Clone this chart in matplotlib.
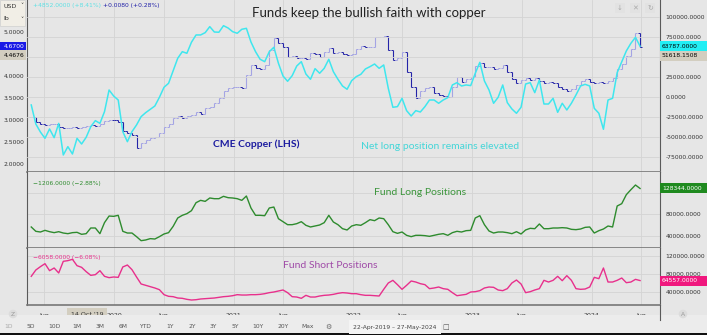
import matplotlib
matplotlib.use('Agg')
import matplotlib.pyplot as plt
import matplotlib.transforms as mtransforms
from matplotlib.patches import Rectangle
import numpy as np
import pandas as pd

W, H = 707, 335

# weekly COT data sampled every 2 weeks, 22-Apr-2019 .. 27-May-2024
dates = pd.date_range('2019-04-23', periods=134, freq='14D')

# net long position (thousand contracts), right scale of top panel
net_long = [-9.6, -33.4, -43.4, -51.3, -39.6, -50.5, -32.6, -72.1, -61.7, -70.9,
            -51.3, -58.4, -50.0, -36.7, -29.2, -32.6, -18.0, 9.1, 1.6, -3.4,
            -43.0, -55.5, -43.0, -34.6, -24.2, -19.2, -15.0, -10.9, 0.0, 12.5,
            17.5, 33.3, 48.8, 57.0, 55.0, 68.8, 77.9, 77.9, 80.8, 88.3,
            81.6, 81.3, 89.5, 86.6, 82.0, 80.0,
            85.0, 86.2, 69.1, 57.0, 47.5, 44.5, 57.0, 62.5, 42.5, 26.6,
            20.0, 27.0, 39.1, 44.5, 29.1, 22.5, 35.8, 30.0, 36.2, 47.5,
            32.0, 22.5, 14.1, 10.0, 20.8, 25.8, 28.7, 35.4, 38.3, 41.6,
            36.2, 40.4, 11.2, -12.5, -11.7, -1.3, -16.7, -23.4, -16.7, -18.4,
            -11.7, -3.4, -3.4, -7.5, -3.4, -0.4,
            15.4, 18.3, 14.1, 15.4, 14.6, 30.0, 43.7, 20.4, 9.1, -7.5,
            0.0, 15.4, -6.7, -14.6, -20.0, -12.5, 16.6, 18.3, 5.8, 21.6,
            -8.4, -8.4, -1.3, -18.8, -7.5, -15.9, -7.5, 2.9, 14.1, 16.2,
            14.1, -13.8, -20.0, -40.0, -3.4, -1.3, 30.8, 44.5, 57.9, 67.5,
            75.0, 63.8]

# CME copper close (USD/lb), left scale of top panel
price_close = [3.06, 2.95, 2.90, 2.89, 2.90, 2.91, 2.85, 2.81, 2.81, 2.83,
               2.81, 2.83, 2.86, 2.88, 2.86, 2.90, 2.97, 3.01, 3.00, 2.96,
               2.76, 2.70, 2.67, 2.36, 2.48, 2.55, 2.58, 2.62, 2.71, 2.83,
               2.91, 3.04, 3.08, 3.05, 3.08, 3.11, 3.19, 3.14, 3.27, 3.30,
               3.38, 3.49, 3.67, 3.73, 3.74, 3.74,
               3.72, 4.02, 4.24, 4.18, 4.17, 4.25, 4.59, 4.86, 4.74, 4.67,
               4.44, 4.45, 4.40, 4.42, 4.38, 4.52, 4.50, 4.44, 4.55, 4.63,
               4.52, 4.55, 4.49, 4.48, 4.50, 4.61, 4.69, 4.67, 4.67, 4.88,
               4.88, 4.91, 4.59, 4.36, 4.42, 4.55, 4.10, 3.74, 3.49, 3.67,
               3.72, 3.74, 3.62, 3.57, 3.55, 3.52,
               3.74, 3.97, 3.87, 3.93, 3.97, 4.23, 4.29, 4.20, 4.20, 4.17,
               4.19, 4.24, 4.10, 3.94, 3.85, 3.91, 3.96, 3.92, 3.96, 3.88,
               3.85, 3.87, 3.83, 3.76, 3.70, 3.67, 3.70, 3.79, 3.89, 3.93,
               3.87, 3.85, 3.87, 3.83, 3.89, 3.96, 4.15, 4.27, 4.46, 4.62,
               4.98, 4.67]

# fund long positions (thousand contracts)
long_pos = [56.3, 48.2, 46.9, 50.0, 47.5, 45.7, 47.5, 45.0, 43.8, 45.7,
            46.3, 42.6, 43.8, 54.4, 54.4, 43.8, 64.4, 76.8, 76.2, 78.1,
            48.2, 45.0, 45.0, 38.2, 30.7, 32.0, 34.5, 33.8, 38.2, 43.2,
            45.7, 57.5, 73.1, 78.1, 81.2, 86.8, 101.7, 106.1, 104.2, 110.5,
            109.2, 109.2, 113.6, 111.1, 110.5, 109.2,
            106.1, 114.2, 91.8, 78.1, 78.1, 77.4, 91.8, 93.6, 71.8, 66.2,
            60.6, 60.6, 62.5, 66.2, 59.4, 56.3, 58.1, 60.0, 64.4, 78.1,
            65.6, 60.6, 53.1, 50.7, 58.1, 60.6, 59.4, 64.4, 70.0, 68.1,
            73.1, 71.8, 60.6, 47.5, 44.4, 46.9, 40.7, 38.2, 40.7, 40.7,
            40.1, 38.8, 40.7, 42.6, 43.8, 40.7,
            45.7, 48.2, 46.9, 49.4, 50.0, 73.1, 77.4, 60.6, 48.8, 45.0,
            46.9, 46.9, 45.7, 43.8, 47.5, 43.2, 50.7, 53.8, 53.1, 61.9,
            53.1, 53.1, 54.4, 54.4, 55.0, 54.4, 51.9, 51.3, 52.5, 55.6,
            56.3, 45.0, 49.4, 52.5, 58.1, 56.3, 95.5, 99.9, 116.7, 126.0,
            134.8, 128.3]

# fund short positions (thousand contracts)
short_pos = [74.1, 88.3, 95.8, 102.5, 86.8, 92.8, 81.6, 107.8, 109.3, 112.3,
             98.0, 94.3, 84.6, 76.3, 77.8, 86.8, 74.1, 71.1, 72.6, 71.8,
             95.1, 99.5, 89.1, 72.6, 56.9, 53.9, 50.9, 47.9, 44.1, 32.9,
             29.2, 28.4, 25.4, 24.7, 22.4, 20.9, 21.6, 23.2, 23.9, 24.7,
             25.4, 26.9, 28.4, 29.2, 30.6, 32.9,
             32.1, 32.1, 32.9, 32.9, 33.6, 35.1, 37.4, 38.9, 41.1, 43.4,
             37.4, 28.4, 27.6, 24.7, 31.4, 27.6, 27.6, 29.9, 31.4, 32.1,
             33.6, 35.9, 37.4, 36.6, 35.1, 35.1, 32.9, 31.4, 31.4, 30.6,
             29.9, 44.9, 59.1, 65.1, 55.4, 44.9, 53.9, 63.6, 61.3, 57.6,
             55.4, 46.4, 47.9, 50.1, 46.4, 44.9,
             37.4, 30.6, 32.1, 33.6, 38.9, 39.6, 41.9, 47.9, 50.1, 49.4,
             43.4, 41.9, 46.4, 59.1, 65.8, 56.9, 37.4, 39.6, 43.4, 46.4,
             65.1, 61.3, 65.1, 74.1, 64.3, 75.6, 65.1, 46.4, 44.9, 45.6,
             50.1, 71.8, 68.8, 92.8, 61.3, 61.3, 65.1, 70.3, 59.8, 61.3,
             67.3, 64.6]

grid_dates = pd.to_datetime(['2019-06-01', '2020-01-01', '2020-06-01', '2021-01-01',
                             '2021-06-01', '2022-01-01', '2022-06-01', '2023-01-01',
                             '2023-06-01', '2024-01-01', '2024-06-01'])
grid_labels = ['Jun', '2020', 'Jun', '2021', 'Jun', '2022', 'Jun', '2023', 'Jun', '2024', 'Jun']

price_ticks = [2.0, 2.5, 3.0, 3.5, 4.0, 4.5, 5.0]
net_ticks = [-75000, -50000, -25000, 0, 25000, 50000, 75000, 100000]
pos_ticks = [40000, 80000, 120000]

BG = '#e6e6e6'
GRID = '#d4d4d4'
AXC = '#5a5a5a'
TXT = '#333333'
CYAN = '#3fe6ee'
DARK_BLUE = '#2424a8'
LIGHT_BLUE = '#a4a4e4'
GREEN = '#2e8b2e'
PINK = '#e8308c'

plt.rcParams['font.family'] = ['DejaVu Sans']

fig = plt.figure(figsize=(W / 100, H / 100), dpi=100, facecolor=BG)


def px_axes(x0, y0, x1, y1):
    return fig.add_axes([x0 / W, 1 - y1 / H, (x1 - x0) / W, (y1 - y0) / H])


def ftext(x, y, s, **kw):
    return fig.text(x / W, 1 - y / H, s, **kw)


def fmt_labels(ticks, hidden=()):
    return ['' if v in hidden else f'{v:.4f}' for v in ticks]


ax_top = px_axes(27, 0, 660, 172)
ax_mid = px_axes(27, 172, 660, 248)
ax_bot = px_axes(27, 248, 660, 305)

x0, x1 = pd.Timestamp('2019-04-10'), pd.Timestamp('2024-07-28')

for ax in (ax_top, ax_mid, ax_bot):
    ax.set_facecolor(BG)
    ax.set_xlim(x0, x1)
    for d in grid_dates:
        ax.axvline(d, color=GRID, lw=0.6, zorder=0)
    ax.spines['top'].set_visible(False)
    for s in ('left', 'right'):
        ax.spines[s].set_color(AXC)
        ax.spines[s].set_linewidth(0.8)
    ax.spines['bottom'].set_color('#777777')
    ax.spines['bottom'].set_linewidth(1.2)
    ax.tick_params(length=0, labelsize=4.3, labelcolor=TXT, pad=2)

# --- top panel: copper price bars + net long line
close = np.array(price_close)
prev = np.r_[close[0], close[:-1]]
up = close >= prev
ax_top.vlines(dates, np.minimum(prev, close), np.maximum(prev, close),
              colors=np.where(up, LIGHT_BLUE, DARK_BLUE), lw=0.8, zorder=2)
ax_top.plot(dates[up], close[up], ls='none', marker=1, ms=1.5, mew=0.7, color=LIGHT_BLUE, zorder=2)
ax_top.plot(dates[~up], close[~up], ls='none', marker=1, ms=1.5, mew=0.7, color=DARK_BLUE, zorder=2)
ax_top.plot(dates[up], prev[up], ls='none', marker=0, ms=1.5, mew=0.7, color=LIGHT_BLUE, zorder=2)
ax_top.plot(dates[~up], prev[~up], ls='none', marker=0, ms=1.5, mew=0.7, color=DARK_BLUE, zorder=2)
ax_top.set_ylim(1.818, 5.727)
ax_top.set_yticks(price_ticks)
ax_top.set_yticklabels(fmt_labels(price_ticks, hidden=(4.5,)))
ax_top.tick_params(axis='x', labelbottom=False)

ax_net = ax_top.twinx()
ax_net.set_xlim(x0, x1)
ax_net.plot(dates, np.array(net_long) * 1000, color=CYAN, lw=1.1, zorder=3)
ax_net.set_ylim(-93400, 121600)
ax_net.set_yticks(net_ticks)
ax_net.set_yticklabels(fmt_labels(net_ticks, hidden=(50000,)))
ax_net.tick_params(length=0, labelsize=4.3, labelcolor=TXT, pad=4)
ax_net.grid(axis='y', color=GRID, lw=0.6)
ax_net.set_axisbelow(True)
for s in ax_net.spines.values():
    s.set_visible(False)

# --- middle panel: fund long
ax_mid.plot(dates, np.array(long_pos) * 1000, color=GREEN, lw=1.0)
ax_mid.set_ylim(17000, 159100)
ax_mid.yaxis.tick_right()
ax_mid.set_yticks(pos_ticks)
ax_mid.set_yticklabels(fmt_labels(pos_ticks, hidden=(120000,)))
ax_mid.tick_params(axis='y', pad=4)
ax_mid.tick_params(axis='x', labelbottom=False)
ax_mid.grid(axis='y', color=GRID, lw=0.6)
ax_mid.set_axisbelow(True)

# --- bottom panel: fund short
ax_bot.plot(dates, np.array(short_pos) * 1000, color=PINK, lw=1.0)
ax_bot.set_ylim(9700, 137700)
ax_bot.yaxis.tick_right()
ax_bot.set_yticks(pos_ticks)
ax_bot.set_yticklabels(fmt_labels(pos_ticks))
ax_bot.tick_params(axis='y', pad=4)
ax_bot.grid(axis='y', color=GRID, lw=0.6)
ax_bot.set_axisbelow(True)
ax_bot.set_xticks(grid_dates)
ax_bot.set_xticklabels(grid_labels)
ax_bot.tick_params(axis='x', pad=6, labelsize=4.5)


# last value boxes, drawn as full-width tags on the price scales
def value_tag(ax, val, s, fc, tc, side='right'):
    ypix = ax.transData.transform((0, val))[1]
    if side == 'right':
        bx, bw, tx, ha = 660, 47, 662, 'left'
    else:
        bx, bw, tx, ha = 0, 26, 25, 'right'
    fig.patches.append(Rectangle((bx / W, (ypix - 5) / H), bw / W, 10 / H,
                                 transform=fig.transFigure, fc=fc, ec='none', zorder=10))
    fig.text(tx / W, ypix / H, s, ha=ha, va='center', fontsize=4.3, color=tc, zorder=11)


value_tag(ax_net, net_long[-1] * 1000, '63787.0000', '#22eef4', 'black')
value_tag(ax_net, 51618.15, '51618.1508', '#d3cec0', 'black')
value_tag(ax_mid, long_pos[-1] * 1000, '128344.0000', '#1f8a1f', 'white')
value_tag(ax_bot, short_pos[-1] * 1000, '64557.0000', '#f0187e', 'white')
value_tag(ax_top, price_close[-1], f'{price_close[-1]:.4f}', '#1a1ae6', 'white', side='left')
value_tag(ax_top, 4.4676, '4.4676', '#d3cec0', 'black', side='left')

# date crosshair label
tr = mtransforms.blended_transform_factory(ax_bot.transData, fig.transFigure)
ax_bot.text(pd.Timestamp('2019-10-10'), 1 - 314 / H, "14 Oct '19", transform=tr, ha='center',
            va='center', fontsize=4.5, color=TXT, clip_on=False,
            bbox=dict(boxstyle='square,pad=0.6', fc='#d3cec0', ec='none'))

# annotations
ftext(369, 13, 'Funds keep the bullish faith with copper', ha='center', va='center',
      fontsize=9.5, family='Lato', color='#222222')
ftext(256, 144, 'CME Copper (LHS)', ha='center', va='center', fontsize=7.5,
      family='Lato', weight='bold', color='#1c1ca0')
ftext(440, 146, 'Net long position remains elevated', ha='center', va='center',
      fontsize=7.5, family='Lato', color='#44d6d8')
ftext(420, 193, 'Fund Long Positions', ha='center', va='center', fontsize=7.5,
      family='Lato', color='#3c963c')
ftext(330, 265, 'Fund Short Positions', ha='center', va='center', fontsize=7.5,
      family='Lato', color='#a04ca8')

ftext(33, 6, '+4852.0000 (+8.41%)', va='center', fontsize=4.3, color='#5ee0e4')
ftext(103, 6, '+0.0080 (+0.28%)', va='center', fontsize=4.3, color='#2020a8')
ftext(33, 183, '\u22121206.0000 (\u22122.88%)', va='center', fontsize=4.3, color=GREEN)
ftext(33, 258, '\u22126058.0000 (\u22126.08%)', va='center', fontsize=4.3, color=PINK)

# header widgets
fig.patches.append(Rectangle((0, 1 - 26 / H), 25 / W, 26 / H, transform=fig.transFigure,
                             fc='#f1eee6', ec='#cfcfcf', lw=0.5))
ftext(3, 6, 'USD', va='center', fontsize=4.5, color=TXT)
ftext(3, 19, 'lb', va='center', fontsize=4.5, color=TXT)
ftext(20, 6, '\u02c5', va='center', fontsize=4.5, color=TXT)
ftext(20, 19, '\u02c5', va='center', fontsize=4.5, color=TXT)
for xx, s in [(620, '\u2193'), (635, '\u2715'), (650, '\u21bb')]:
    ftext(xx, 8, s, ha='center', va='center', fontsize=5, color='#aaaaaa',
          bbox=dict(boxstyle='square,pad=0.3', fc='#e2e2e2', ec='none'))

# bottom toolbar
fig.patches.append(Rectangle((0, 2 / H), 1, 18 / H, transform=fig.transFigure,
                             fc='#ececec', ec='none'))
fig.patches.append(Rectangle((0, 0), 1, 2 / H, transform=fig.transFigure,
                             fc='#111111', ec='none'))
fig.lines.append(plt.Line2D([660 / W, 660 / W], [1 - 320 / H, 1 - 305 / H],
                            transform=fig.transFigure, color=AXC, lw=0.8))
ftext(13, 314, 'Z', ha='center', va='center', fontsize=4.3, color='#999999',
      bbox=dict(boxstyle='circle,pad=0.3', fc='#dcdcdc', ec='none'))
ftext(683, 314, 'A', ha='center', va='center', fontsize=4.3, color='#999999',
      bbox=dict(boxstyle='circle,pad=0.3', fc='#dcdcdc', ec='none'))
buttons = ['1D', '5D', '10D', '1M', '3M', '6M', 'YTD', '1Y', '2Y', '3Y', '5Y', '10Y', '20Y', 'Max']
button_x = [9, 31, 54, 77, 100, 123, 145, 170, 192, 213, 235, 258, 283, 308]
for bx, b in zip(button_x, buttons):
    ftext(bx, 327, b, ha='center', va='center', fontsize=4.3,
          color='#aaaaaa' if b == '1D' else '#555555')
ftext(328, 327, '\u2699', ha='center', va='center', fontsize=5, color='#666666')
ftext(395, 327, '22-Apr-2019 \u2013 27-May-2024', ha='center', va='center', fontsize=4.3,
      color='#444444', bbox=dict(boxstyle='square,pad=0.8', fc='#f4f4f4', ec='none'))
ftext(446, 327, '\u25a1', ha='center', va='center', fontsize=5, color='#555555')

fig.savefig('out.png', dpi=100, facecolor=BG)
